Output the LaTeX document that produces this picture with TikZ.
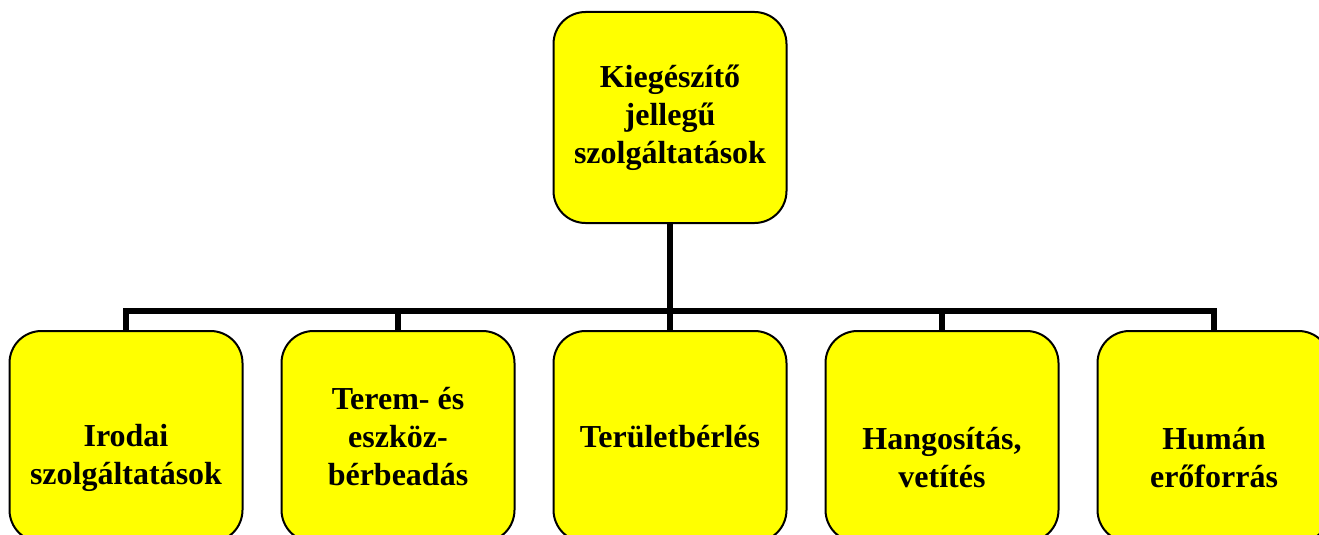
\documentclass[tikz,border=0pt]{standalone}
\usepackage{fontspec}
\setmainfont{Liberation Serif}
\definecolor{boxyellow}{RGB}{255,255,0}
\begin{document}
\begin{tikzpicture}[x=1pt,y=-1pt,
		box/.style={draw=black,line width=2pt,fill=boxyellow,rounded corners=32pt,
			minimum width=233pt,minimum height=211pt,inner sep=0pt,align=center,
			font=\fontsize{32}{38}\selectfont\bfseries},
		link/.style={line width=6pt}]
		\useasboundingbox (0,0) rectangle (1319,535);
		\clip (0,0) rectangle (1319,535);
		\node[box] (top) at (670,117.5) {Kiegészítő\\jellegű\\szolgáltatások};
		\node[box] (iroda) at (126,436.5) {\strut\\Irodai\\szolgáltatások};
		\node[box] (terem) at (398,436.5) {Terem- és\\eszköz-\\bérbeadás};
		\node[box] (terulet) at (670,436.5) {Területbérlés};
		\node[box] (hang) at (942,436.5) {\strut\\Hangosítás,\\vetítés};
		\node[box] (human) at (1214,436.5) {\strut\\Humán\\erőforrás};
		\coordinate (bar) at (670,311);
		\draw[link] (top.south) -- (bar);
		\foreach \c in {iroda,terem,terulet,hang,human}
			\draw[link] (bar) -| (\c.north);
	\end{tikzpicture}
\end{document}
